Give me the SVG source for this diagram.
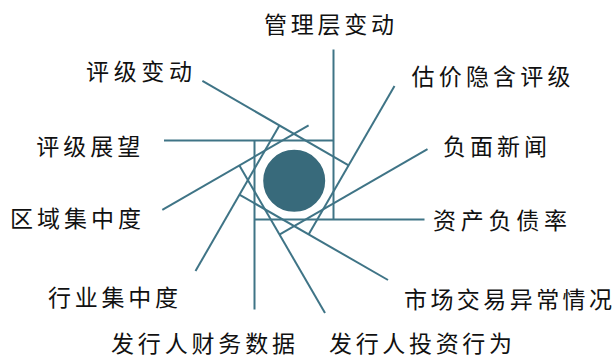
<svg xmlns="http://www.w3.org/2000/svg" width="613" height="359" viewBox="0 0 613 359">
  <style>
    .ln { stroke: #3f7486; stroke-width: 2; fill: none; stroke-linecap: butt; }
    .lb { font-family: "Noto Sans CJK SC", "Noto Sans", sans-serif; font-size: 23px; fill: #111; }
    .hub { fill: #386a7b; stroke: #ffffff; stroke-width: 2; }
  </style>
  <rect width="613" height="359" fill="#ffffff"/>
  <g id="connectors">
    <line class="ln" x1="333.5" y1="140.5" x2="164" y2="140.5"/>
    <line class="ln" x1="333.5" y1="219.5" x2="333.5" y2="49.5"/>
    <line class="ln" x1="254.5" y1="219.5" x2="424.5" y2="219.5"/>
    <line class="ln" x1="254.5" y1="140.5" x2="254.5" y2="309.5"/>
    <line class="ln" x1="348.6" y1="165.4" x2="202.4" y2="80.9"/>
    <line class="ln" x1="308.6" y1="234.6" x2="394.5" y2="86"/>
    <line class="ln" x1="239.4" y1="194.6" x2="388" y2="280"/>
    <line class="ln" x1="279.4" y1="125.4" x2="195.5" y2="271"/>
    <line class="ln" x1="308.6" y1="125.4" x2="162.3" y2="209.9"/>
    <line class="ln" x1="279.4" y1="234.6" x2="427.5" y2="149.1"/>
    <line class="ln" x1="239.4" y1="165.4" x2="325" y2="313"/>
  </g>
  <g id="hub">
    <circle class="hub" cx="294.2" cy="180.8" r="32"/>
  </g>
  <g id="n-mgmt"><text class="lb" x="264" y="32.7" textLength="130" lengthAdjust="spacing">管理层变动</text></g>
  <g id="n-rating-change"><text class="lb" x="86" y="80.4" textLength="106" lengthAdjust="spacing">评级变动</text></g>
  <g id="n-implied"><text class="lb" x="411.5" y="84.5" textLength="159" lengthAdjust="spacing">估价隐含评级</text></g>
  <g id="n-outlook"><text class="lb" x="36.3" y="155.4" textLength="104" lengthAdjust="spacing">评级展望</text></g>
  <g id="n-news"><text class="lb" x="443" y="155.2" textLength="104" lengthAdjust="spacing">负面新闻</text></g>
  <g id="n-region"><text class="lb" x="10" y="227.2" textLength="131" lengthAdjust="spacing">区域集中度</text></g>
  <g id="n-leverage"><text class="lb" x="433" y="228.7" textLength="134" lengthAdjust="spacing">资产负债率</text></g>
  <g id="n-industry"><text class="lb" x="48" y="306.2" textLength="130" lengthAdjust="spacing">行业集中度</text></g>
  <g id="n-market"><text class="lb" x="404" y="307.7" textLength="208" lengthAdjust="spacing">市场交易异常情况</text></g>
  <g id="n-financial"><text class="lb" x="111" y="352" textLength="184" lengthAdjust="spacing">发行人财务数据</text></g>
  <g id="n-invest"><text class="lb" x="329" y="352" textLength="183" lengthAdjust="spacing">发行人投资行为</text></g>
</svg>
